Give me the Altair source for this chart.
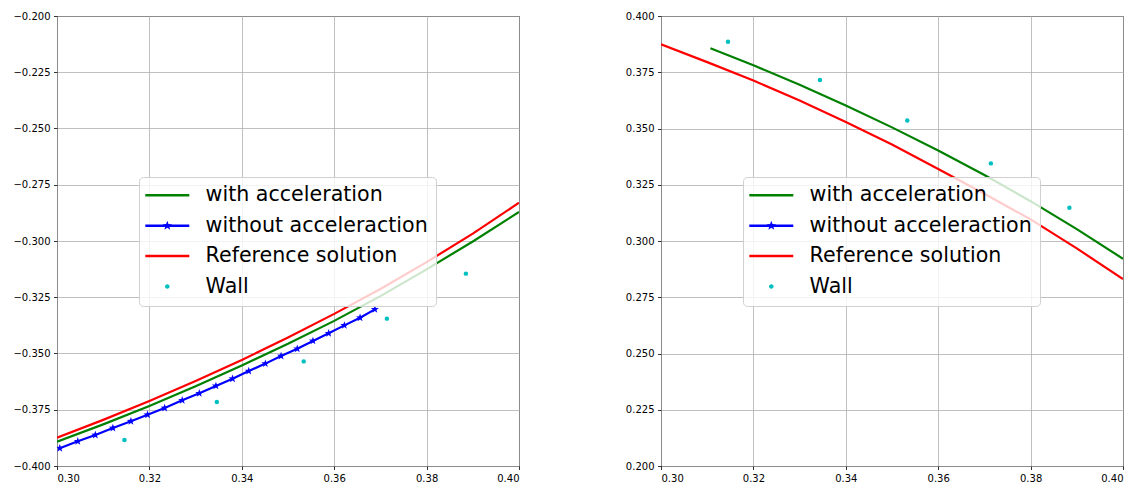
import math

import altair as alt
import pandas as pd

# ---- series labels and colours ----
SERIES = ["with acceleration", "without acceleraction", "Reference solution", "Wall"]
COLORS = ["#008000", "#0000ff", "#ff0000", "#00bfbf"]

# ---- lower branch (left panel) ----
ref_lo_x = [0.30, 0.31, 0.32, 0.33, 0.34, 0.35, 0.36, 0.37, 0.38, 0.39, 0.40]
ref_lo_y = [-0.3874, -0.3795, -0.3711, -0.3622, -0.3529, -0.3429, -0.3324, -0.3213, -0.3094, -0.2967, -0.2830]

acc_lo_x = [0.30, 0.31, 0.32, 0.33, 0.34, 0.35, 0.36, 0.37, 0.38, 0.39, 0.40]
acc_lo_y = [-0.3892, -0.3815, -0.3733, -0.3646, -0.3553, -0.3457, -0.3355, -0.3245, -0.3126, -0.3002, -0.2871]

noacc_lo_x = [0.3006, 0.3045, 0.3083, 0.3121, 0.3160, 0.3196, 0.3233, 0.3271, 0.3308, 0.3344,
              0.3380, 0.3415, 0.3451, 0.3485, 0.3520, 0.3554, 0.3588, 0.3622, 0.3656, 0.3688]
noacc_lo_y = [-0.3921, -0.3890, -0.3862, -0.3831, -0.3801, -0.3772, -0.3742, -0.3708, -0.3677, -0.3644,
              -0.3612, -0.3578, -0.3545, -0.3511, -0.3479, -0.3444, -0.3410, -0.3375, -0.3341, -0.3304]

wall_lo_x = [0.3146, 0.3346, 0.3534, 0.3714, 0.3885]
wall_lo_y = [-0.3884, -0.3716, -0.3535, -0.3345, -0.3145]

# ---- upper branch (right panel) ----
ref_up_x = [0.30, 0.31, 0.32, 0.33, 0.34, 0.35, 0.36, 0.37, 0.38, 0.39, 0.40]
ref_up_y = [0.3874, 0.3795, 0.3713, 0.3624, 0.3529, 0.3429, 0.3320, 0.3210, 0.3096, 0.2967, 0.2831]

acc_up_x = [0.3107, 0.32, 0.33, 0.34, 0.35, 0.36, 0.37, 0.38, 0.39, 0.40]
acc_up_y = [0.3857, 0.3781, 0.3694, 0.3602, 0.3505, 0.3402, 0.3293, 0.3177, 0.3053, 0.2921]

wall_up_x = [0.3145, 0.3344, 0.3533, 0.3714, 0.3884]
wall_up_y = [0.3886, 0.3716, 0.3536, 0.3345, 0.3148]

# ---- axis ticks ----
x_ticks = [0.30, 0.32, 0.34, 0.36, 0.38, 0.40]
y_ticks_lo = [-0.400, -0.375, -0.350, -0.325, -0.300, -0.275, -0.250, -0.225, -0.200]
y_ticks_up = [0.200, 0.225, 0.250, 0.275, 0.300, 0.325, 0.350, 0.375, 0.400]

FONT = "DejaVu Sans"


def star_path(cx, r_out, r_in):
    pts = []
    for i in range(10):
        r = r_out if i % 2 == 0 else r_in
        a = math.pi / 2 - i * math.pi / 5
        pts.append((cx + r * math.cos(a), -r * math.sin(a)))
    return "M" + "L".join(f"{px:.3f},{py:.3f}" for px, py in pts) + "Z"


# legend handles: a short line, a line with a star, a dot
handle_line = "M-2.4,-0.25H6.4V0.25H-2.4Z"
handle_star = handle_line + star_path(2.0, 1.0, 0.4)
handle_dot = "M1.55,0A0.45,0.45 0 1,0 2.45,0A0.45,0.45 0 1,0 1.55,0Z"
LEGEND_SHAPES = [handle_line, handle_star, handle_line, handle_dot]

MARKER_STAR = star_path(0, 1.0, 0.4)

legend_def = alt.Legend(
    title=None,
    orient="none",
    legendX=82,
    legendY=161,
    padding=8,
    fillColor="rgba(255,255,255,0.8)",
    strokeColor="#d0d0d0",
    cornerRadius=4,
    labelFont=FONT,
    labelFontSize=20.6,
    labelColor="#000000",
    labelLimit=400,
    labelOffset=38,
    symbolSize=100,
    symbolStrokeWidth=0,
    symbolOpacity=1,
    rowPadding=9.4,
)


def panel(ref_x, ref_y, acc_x, acc_y, wall_x, wall_y, y_ticks, y_dom, noacc=None):
    xs = alt.Scale(domain=[0.30, 0.40], nice=False, zero=False)
    ys = alt.Scale(domain=y_dom, nice=False, zero=False)
    xa = alt.Axis(values=x_ticks, format=".2f", title=None)
    ya = alt.Axis(values=y_ticks, format=".3f", title=None)

    def enc(ch):
        return ch.encode(x=alt.X("x:Q", scale=xs, axis=xa), y=alt.Y("y:Q", scale=ys, axis=ya))

    layers = []
    acc_df = pd.DataFrame({"x": acc_x, "y": acc_y})
    layers.append(enc(alt.Chart(acc_df).mark_line(color=COLORS[0], strokeWidth=2.2, clip=True)))
    if noacc is not None:
        nx, ny = noacc
        nd = pd.DataFrame({"x": nx, "y": ny})
        layers.append(enc(alt.Chart(nd).mark_line(color=COLORS[1], strokeWidth=2.2, clip=True)))
        layers.append(enc(alt.Chart(nd).mark_point(shape=MARKER_STAR, filled=True, size=72,
                                                   color=COLORS[1], opacity=1, clip=True)))
    ref_df = pd.DataFrame({"x": ref_x, "y": ref_y})
    layers.append(enc(alt.Chart(ref_df).mark_line(color=COLORS[2], strokeWidth=2.2, clip=True)))
    wall_df = pd.DataFrame({"x": wall_x, "y": wall_y})
    layers.append(enc(alt.Chart(wall_df).mark_point(shape="circle", filled=True, size=20,
                                                    color=COLORS[3], opacity=1, clip=True)))

    # legend entries
    leg_df = pd.DataFrame({"series": SERIES})
    layers.append(
        alt.Chart(leg_df).mark_point(filled=True, opacity=0).encode(
            color=alt.Color("series:N", scale=alt.Scale(domain=SERIES, range=COLORS), legend=legend_def),
            shape=alt.Shape("series:N", scale=alt.Scale(domain=SERIES, range=LEGEND_SHAPES), legend=legend_def),
        )
    )
    return alt.layer(*layers).properties(width=462, height=450)


left = panel(ref_lo_x, ref_lo_y, acc_lo_x, acc_lo_y, wall_lo_x, wall_lo_y,
             y_ticks_lo, [-0.400, -0.200], noacc=(noacc_lo_x, noacc_lo_y))
right = panel(ref_up_x, ref_up_y, acc_up_x, acc_up_y, wall_up_x, wall_up_y,
              y_ticks_up, [0.200, 0.400])

chart = (
    alt.hconcat(left, right, spacing=104)
    .resolve_scale(color="independent", shape="independent")
    .resolve_legend(color="independent", shape="independent")
    .properties(padding={"left": 12, "top": 10, "right": 0, "bottom": 5}, background="white")
    .configure_view(stroke="#000000", strokeWidth=1)
    .configure_axis(
        grid=True,
        gridColor="#b0b0b0",
        gridWidth=0.8,
        domain=False,
        tickColor="#000000",
        tickWidth=0.8,
        tickSize=3.5,
        labelPadding=3.5,
        labelFont=FONT,
        labelFontSize=10,
        labelColor="#000000",
    )
)

chart.save("out.html", embed_options={"renderer": "svg", "actions": False})
